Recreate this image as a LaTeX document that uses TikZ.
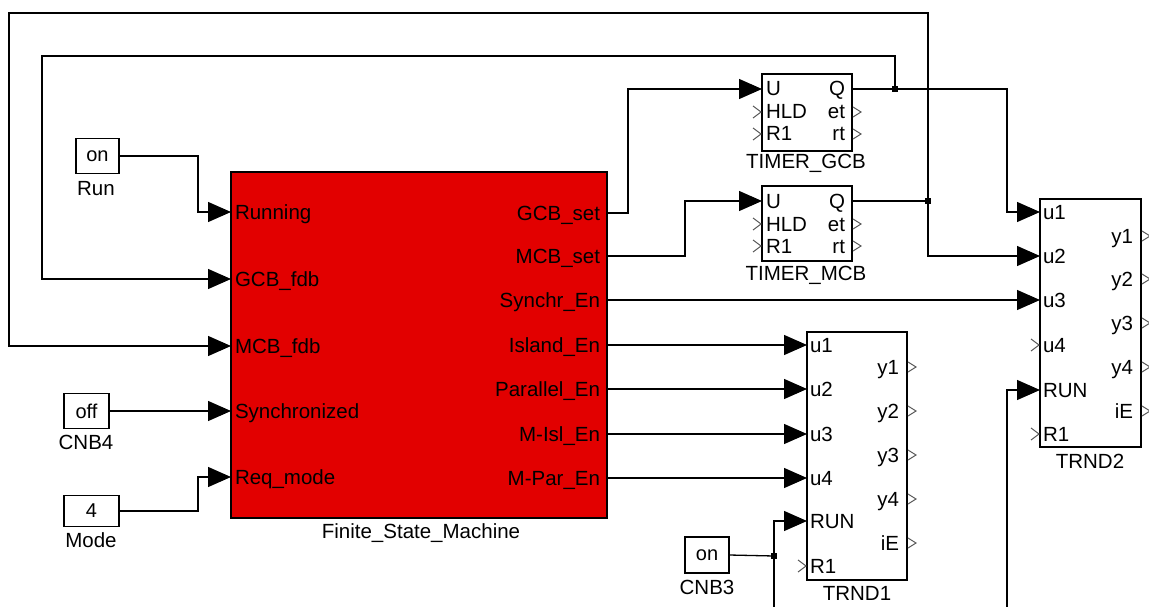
\documentclass[tikz,border=0pt]{standalone}
\usepackage{fontspec}
\setmainfont{Liberation Sans}
\usetikzlibrary{arrows.meta,calc}
\definecolor{fsmred}{RGB}{226,0,0}
\definecolor{chevgray}{RGB}{90,90,90}
\begin{document}
\begin{tikzpicture}[x=1pt,y=-1pt,
  blk/.style={draw=black,line width=1.3pt,fill=white,anchor=north west,inner sep=0pt,outer sep=0pt},
  cst/.style={draw=black,line width=1.3pt,fill=white,inner sep=0pt,outer sep=0pt,font=\fontsize{20}{24}\selectfont},
  wire/.style={draw=black,line width=1.3pt},
  arr/.style={wire,-{Triangle[length=23pt,width=20pt]}},
  txt/.style={font=\fontsize{20.5}{24}\selectfont,inner sep=0pt,outer sep=0pt},
  pin/.style={txt,anchor=base west},
  pout/.style={txt,anchor=base east},
  bcap/.style={txt,anchor=base},
  chev/.style={draw=chevgray,line width=1pt},
  jdot/.style={fill=black,draw=none,minimum size=6pt,inner sep=0pt,outer sep=0pt}
]
\useasboundingbox (0,0) rectangle (1149,607);

% ---------- blocks ----------
\node[blk,fill=fsmred,minimum width=376pt,minimum height=346pt] (fsm) at (231,172) {};
\node[blk,minimum width=90pt,minimum height=77pt] (tgcb) at (762,74) {};
\node[blk,minimum width=90pt,minimum height=75pt] (tmcb) at (762,186) {};
\node[blk,minimum width=101pt,minimum height=248pt] (trnd2) at (1040,199) {};
\node[blk,minimum width=100pt,minimum height=248pt] (trnd1) at (807,332) {};

\node[cst,minimum width=43pt,minimum height=35pt] (run) at (97.5,156) {on};
\node[cst,minimum width=45pt,minimum height=35pt] (cnb4) at (86.5,411) {off};
\node[cst,minimum width=55pt,minimum height=31pt] (mode) at (91.5,511) {4};
\node[cst,minimum width=44pt,minimum height=36pt] (cnb3) at (707,555) {on};

% ---------- captions ----------
\node[bcap] (runcap) at (96,195) {Run};
\node[bcap] (cnb4cap) at (86,449) {CNB4};
\node[bcap] (modecap) at (91,547) {Mode};
\node[bcap] (cnb3cap) at (707,594) {CNB3};
\node[bcap] (fsmcap) at (421,538) {Finite\_State\_Machine};
\node[bcap] (tgcbcap) at (806,169) {TIMER\_GCB};
\node[bcap] (tmcbcap) at (806,280) {TIMER\_MCB};
\node[bcap] (trnd2cap) at (1090,468) {TRND2};
\node[bcap] (trnd1cap) at (857,600) {TRND1};

% ---------- FSM ports ----------
\foreach \n/\y/\t in {i1/212/Running,i2/279/GCB\_fdb,i3/346/MCB\_fdb,i4/411/Synchronized,i5/477/Req\_mode}{
  \coordinate (fsm-\n) at (231,\y);
  \node[pin] (fsm-\n-l) at (235,\y+7) {\t};
}
\foreach \n/\y/\t in {o1/213/GCB\_set,o2/256/MCB\_set,o3/300/Synchr\_En,o4/345/Island\_En,o5/389/Parallel\_En,o6/434/M-Isl\_En,o7/478/M-Par\_En}{
  \coordinate (fsm-\n) at (607,\y);
  \node[pout] (fsm-\n-l) at (600,\y+7) {\t};
}

% ---------- timer ports ----------
\foreach \b/\ya/\yb/\yc in {tgcb/89/112/134,tmcb/201/224/246}{
  \coordinate (\b-u) at (762,\ya);
  \coordinate (\b-q) at (852,\ya);
  \node[pin] (\b-ul) at (766,\ya+7) {U};
  \node[pin] (\b-hl) at (766,\yb+7) {HLD};
  \node[pin] (\b-rl) at (766,\yc+7) {R1};
  \node[pout] (\b-ql) at (845,\ya+7) {Q};
  \node[pout] (\b-el) at (845,\yb+7) {et};
  \node[pout] (\b-tl) at (845,\yc+7) {rt};
  \draw[chev] (753,\yb-6) -- (761,\yb) -- (753,\yb+6);
  \draw[chev] (753,\yc-6) -- (761,\yc) -- (753,\yc+6);
  \draw[chev] (853,\yb-5) -- (861,\yb) -- (853,\yb+5);
  \draw[chev] (853,\yc-5) -- (861,\yc) -- (853,\yc+5);
}

% ---------- TRND2 ports ----------
\foreach \n/\y/\t in {u1/212/u1,u2/256/u2,u3/300/u3,u4/345/u4,run/390/RUN,r1/434/R1}{
  \coordinate (trnd2-\n) at (1040,\y);
  \node[pin] (trnd2-\n-l) at (1043,\y+7) {\t};
}
\foreach \n/\y in {y1/236,y2/279,y3/323,y4/367,iE/411}{
  \node[pout] (trnd2-\n-l) at (1133,\y+7) {\n};
  \draw[chev] (1142,\y-5) -- (1150,\y) -- (1142,\y+5);
}
\draw[chev] (1031,339) -- (1039,345) -- (1031,351);
\draw[chev] (1031,428) -- (1039,434) -- (1031,440);

% ---------- TRND1 ports ----------
\foreach \n/\y/\t in {u1/345/u1,u2/389/u2,u3/434/u3,u4/478/u4,run/521/RUN,r1/566/R1}{
  \coordinate (trnd1-\n) at (807,\y);
  \node[pin] (trnd1-\n-l) at (810,\y+7) {\t};
}
\foreach \n/\y in {y1/367,y2/411,y3/455,y4/499,iE/543}{
  \node[pout] (trnd1-\n-l) at (899,\y+7) {\n};
  \draw[chev] (908,\y-5) -- (916,\y) -- (908,\y+5);
}
\draw[chev] (798,560) -- (806,566) -- (798,572);

% ---------- junctions and free ends ----------
\node[jdot] (j1) at (895,89) {};
\node[jdot] (j2) at (928,201) {};
\node[jdot] (j3) at (774,556) {};
\coordinate (b1) at (1007,607);
\coordinate (b2) at (774,607);

% ---------- connectors ----------
\draw[arr] (run.east) -| (198,212) -- (fsm-i1);
\draw[arr] (cnb4.east) -- (fsm-i4);
\draw[arr] (mode.east) -| (198,477) -- (fsm-i5);
\draw[arr] (j1.center) -- (895,56) -- (42,56) |- (fsm-i2);
\draw[arr] (j2.center) -- (928,13) -- (9,13) |- (fsm-i3);
\draw[arr] (fsm-o1) -| (628,89) -- (tgcb-u);
\draw[arr] (fsm-o2) -| (685,201) -- (tmcb-u);
\draw[wire] (tgcb-q) -- (j1.center);
\draw[arr] (j1.center) -| (1007,212) -- (trnd2-u1);
\draw[wire] (tmcb-q) -- (j2.center);
\draw[arr] (j2.center) |- (trnd2-u2);
\draw[arr] (fsm-o3) -- (trnd2-u3);
\draw[arr] (fsm-o4) -- (trnd1-u1);
\draw[arr] (fsm-o5) -- (trnd1-u2);
\draw[arr] (fsm-o6) -- (trnd1-u3);
\draw[arr] (fsm-o7) -- (trnd1-u4);
\draw[arr] (b1) |- (trnd2-run);
\draw[arr] (b2) |- (trnd1-run);
\draw[wire] (cnb3.east) -- (j3.center);
\end{tikzpicture}
\end{document}
